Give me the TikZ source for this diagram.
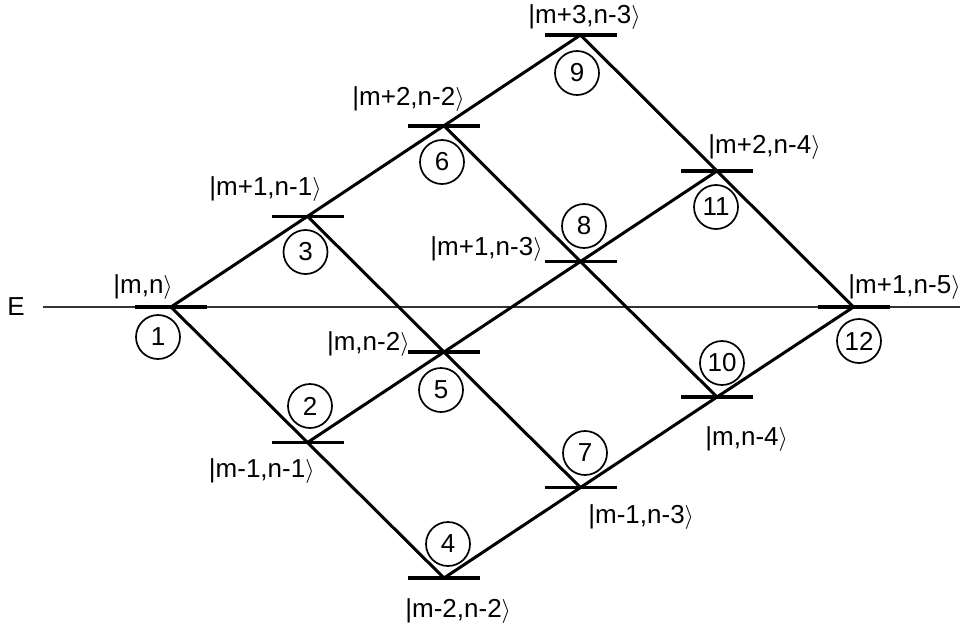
\documentclass[tikz,border=0pt]{standalone}
\usepackage{fontspec}
\setmainfont{Liberation Sans}
\begin{document}
\begin{tikzpicture}[x=0.5pt,y=-0.5pt,line join=round,
  conn/.style={line width=1.5pt},
  lvl/.style={line width=1.8pt},
  axisline/.style={line width=0.65pt,black!80},
  num/.style={circle,draw,line width=0.85pt,minimum size=22pt,inner sep=0pt,font=\fontsize{13}{15}\selectfont},
  lab/.style={inner sep=0pt,font=\fontsize{13}{15}\selectfont}]
\useasboundingbox (0,0) rectangle (964,632);
% level positions
\coordinate (v1) at (171,307);
\coordinate (v3) at (307.5,216.3);
\coordinate (v6) at (444,125.7);
\coordinate (v9) at (580.5,35);
\coordinate (v2) at (307.5,442.5);
\coordinate (v5) at (444,352);
\coordinate (v8) at (580.5,261.5);
\coordinate (v11) at (717,171);
\coordinate (v4) at (444,578);
\coordinate (v7) at (580.5,487.5);
\coordinate (v10) at (717,397);
\coordinate (v12) at (853.5,307);
% energy axis
\node[lab] (E) at (16,307) {E};
\coordinate (eR) at (960,307);
\draw[axisline] ([xshift=9pt]E.east) -- (eR);
% connectors
\draw[conn] (v1) -- (v3) -- (v6) -- (v9) -- (v11) -- (v12);
\draw[conn] (v1) -- (v2) -- (v4) -- (v7) -- (v10) -- (v12);
\draw[conn] (v3) -- (v5) -- (v7);
\draw[conn] (v6) -- (v8) -- (v10);
\draw[conn] (v2) -- (v5) -- (v8) -- (v11);
% level bars
\foreach \v in {1,...,12} \draw[lvl] ([xshift=-18pt]v\v) -- ([xshift=18pt]v\v);
% state labels
\node[lab,anchor=base west] (l1) at (113,293) {|m,n$\rangle$};
\node[lab,anchor=base east] (l3) at (322,195) {|m+1,n-1$\rangle$};
\node[lab,anchor=base east] (l6) at (465,105) {|m+2,n-2$\rangle$};
\node[lab,anchor=base west] (l9) at (528,23) {|m+3,n-3$\rangle$};
\node[lab,anchor=base east] (l8) at (543,255) {|m+1,n-3$\rangle$};
\node[lab,anchor=base east] (l5) at (410,350) {|m,n-2$\rangle$};
\node[lab,anchor=base east] (l2) at (315,477) {|m-1,n-1$\rangle$};
\node[lab,anchor=base west] (l11) at (708,153) {|m+2,n-4$\rangle$};
\node[lab,anchor=base west] (l12) at (848,293) {|m+1,n-5$\rangle$};
\node[lab,anchor=base west] (l7) at (588,523) {|m-1,n-3$\rangle$};
\node[lab,anchor=base west] (l4) at (405,617) {|m-2,n-2$\rangle$};
\node[lab,anchor=base west] (l10) at (705,445) {|m,n-4$\rangle$};
% numbered circles
\node[num] (c1) at (158,337) {1};
\node[num] (c2) at (310,406) {2};
\node[num] (c3) at (305.5,252) {3};
\node[num] (c4) at (448,544) {4};
\node[num] (c5) at (441,390) {5};
\node[num] (c6) at (442,162) {6};
\node[num] (c7) at (585,453) {7};
\node[num] (c8) at (584,226) {8};
\node[num] (c9) at (577,73) {9};
\node[num] (c10) at (722,363) {10};
\node[num] (c11) at (716,207) {11};
\node[num] (c12) at (859,341) {12};
\end{tikzpicture}
\end{document}
